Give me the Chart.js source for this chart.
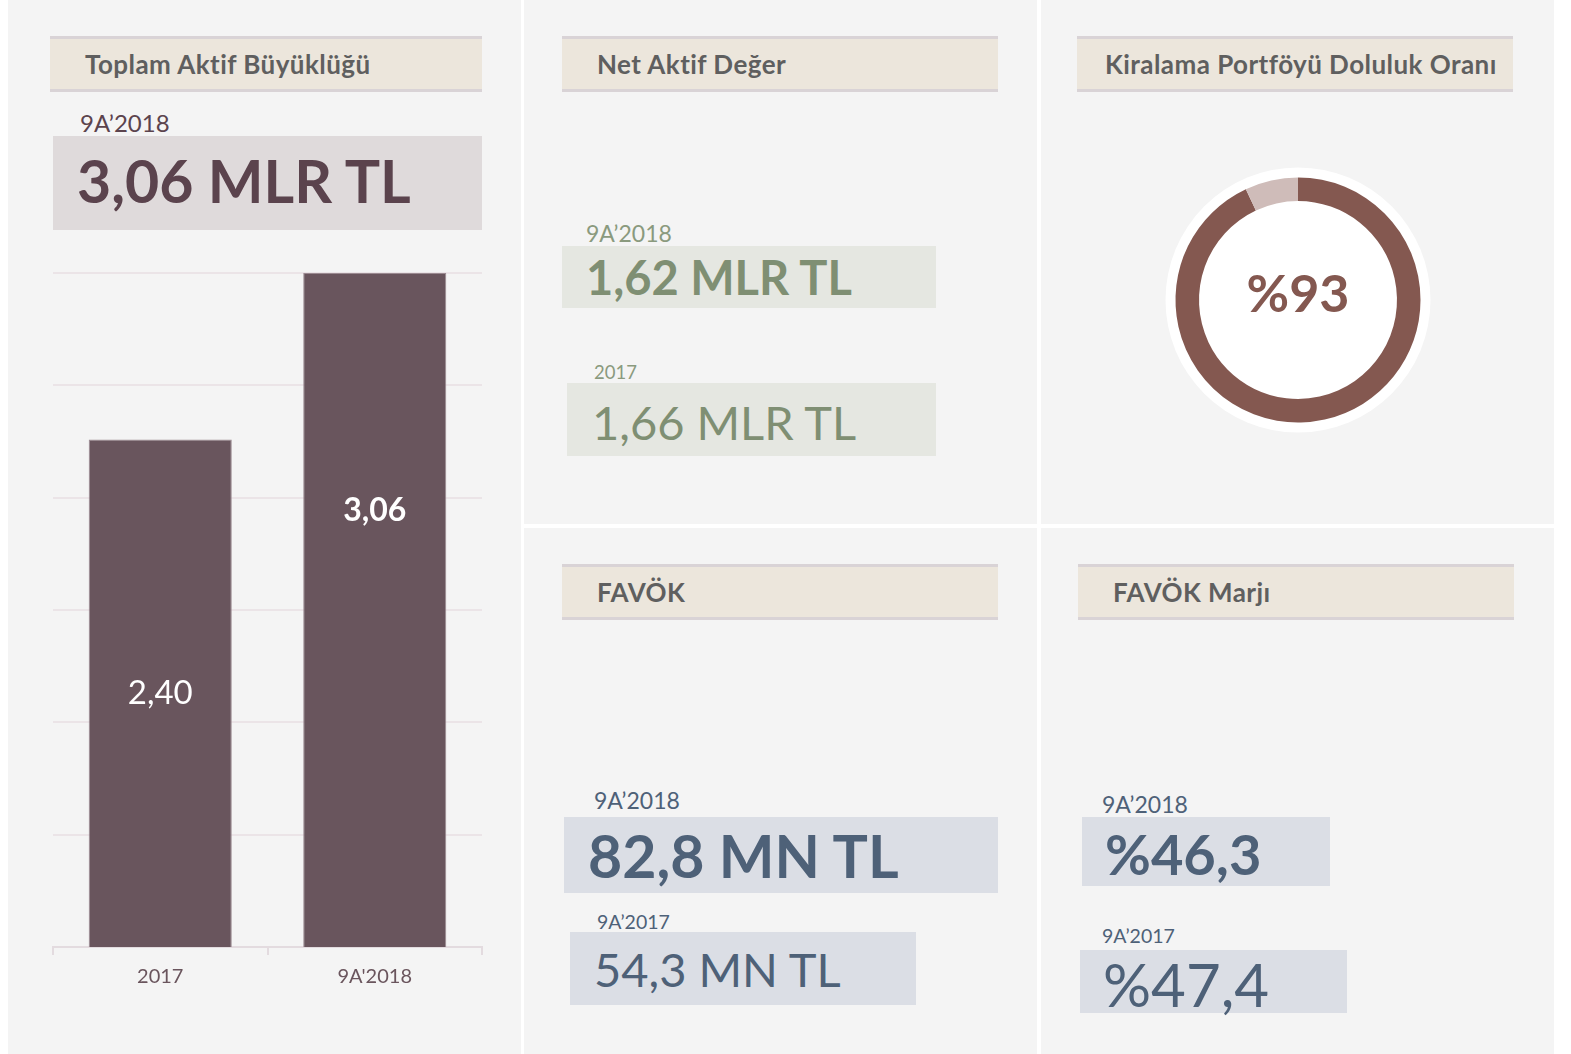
<!DOCTYPE html>
<html><head><meta charset="utf-8">
<script src="https://cdn.jsdelivr.net/npm/chart.js@4.4.1/dist/chart.umd.min.js"></script>
<style>
html,body{margin:0;padding:0;background:#fff;width:1571px;height:1054px;overflow:hidden;font-family:Lato,"Open Sans",sans-serif;}
.panel{position:absolute;background:#f4f4f4;}
.hdr{position:absolute;box-sizing:border-box;height:56px;background:#ece6dc;border-top:3px solid #d9d3d6;border-bottom:3px solid #d9d3d6;font-weight:700;font-size:26px;letter-spacing:0.45px;color:#5f5f5f;line-height:50px;white-space:nowrap;}
.box{position:absolute;}
.t{position:absolute;white-space:nowrap;line-height:1.2;}
canvas{position:absolute;}
</style></head>
<body>
<div class="panel" style="left:8px;top:0;width:513px;height:1054px"></div>
<div class="panel" style="left:524px;top:0;width:513px;height:524px"></div>
<div class="panel" style="left:1041px;top:0;width:513px;height:524px"></div>
<div class="panel" style="left:524px;top:528px;width:513px;height:526px"></div>
<div class="panel" style="left:1041px;top:528px;width:513px;height:526px"></div>

<div class="hdr" id="h0" style="left:50px;top:36px;width:432px;padding-left:35px"></div>
<div class="hdr" id="h1" style="left:562px;top:36px;width:436px;padding-left:35px"></div>
<div class="hdr" id="h2" style="left:1077px;top:36px;width:436px;padding-left:28px"></div>
<div class="hdr" id="h3" style="left:562px;top:564px;width:436px;padding-left:35px"></div>
<div class="hdr" id="h4" style="left:1078px;top:564px;width:436px;padding-left:35px"></div>

<!-- panel 1 -->
<div class="t" id="p0" style="left:80px;top:109px;font-size:24px;color:#5b434d"></div>
<div class="box" style="left:53px;top:136px;width:429px;height:94px;background:#dfdadb"></div>
<div class="t" id="v0" style="left:77px;top:146px;font-size:59px;font-weight:700;color:#5b434d"></div>
<canvas id="bar" width="445" height="752" style="left:45px;top:263px"></canvas>

<!-- panel 2 -->
<div class="t" id="p1a" style="left:586px;top:220px;font-size:23px;color:#8a9a7e"></div>
<div class="box" style="left:562px;top:246px;width:374px;height:62px;background:#e5e7e1"></div>
<div class="t" id="v1a" style="left:586px;top:249px;font-size:47px;font-weight:700;color:#7f8f73"></div>
<div class="t" id="p1b" style="left:594px;top:361px;font-size:18.5px;color:#8a9a7e"></div>
<div class="box" style="left:567px;top:383px;width:369px;height:73px;background:#e5e7e1"></div>
<div class="t" id="v1b" style="left:592px;top:394px;font-size:47px;color:#7f8f73"></div>

<!-- panel 3 -->
<canvas id="donut" width="300" height="300" style="left:1148px;top:150px"></canvas>

<!-- panel 4 -->
<div class="t" id="p3a" style="left:594px;top:787px;font-size:23px;color:#4e6178"></div>
<div class="box" style="left:564px;top:817px;width:434px;height:76px;background:#dbdee5"></div>
<div class="t" id="v3a" style="left:588px;top:821px;font-size:59px;font-weight:700;color:#4e6178"></div>
<div class="t" id="p3b" style="left:597px;top:910px;font-size:19.5px;color:#4e6178"></div>
<div class="box" style="left:570px;top:932px;width:346px;height:73px;background:#dbdee5"></div>
<div class="t" id="v3b" style="left:594px;top:941px;font-size:47px;color:#4e6178"></div>

<!-- panel 5 -->
<div class="t" id="p4a" style="left:1102px;top:791px;font-size:23px;color:#4e6178"></div>
<div class="box" style="left:1082px;top:817px;width:248px;height:69px;background:#dbdee5"></div>
<div class="t" id="v4a" style="left:1105px;top:820px;font-size:56px;font-weight:700;color:#4e6178"></div>
<div class="t" id="p4b" style="left:1102px;top:924px;font-size:19.5px;color:#4e6178"></div>
<div class="box" style="left:1080px;top:950px;width:267px;height:63px;background:#dbdee5"></div>
<div class="t" id="v4b" style="left:1103px;top:948px;font-size:60px;color:#4e6178"></div>

<script>
// ---- data ----
const panelTitles = ['Toplam Aktif Büyüklüğü', 'Net Aktif Değer', 'Kiralama Portföyü Doluluk Oranı', 'FAVÖK', 'FAVÖK Marjı'];
const totalAssetPeriod = '9A’2018';
const totalAssetValue = '3,06 MLR TL';
const barCategories = ['2017', "9A'2018"];
const barValues = [2.40, 3.06];
const barValueLabels = ['2,40', '3,06'];
const navPeriods = ['9A’2018', '2017'];
const navValues = ['1,62 MLR TL', '1,66 MLR TL'];
const occupancyLabels = ['Dolu', 'Boş'];
const occupancyValues = [93, 7];
const ebitdaPeriods = ['9A’2018', '9A’2017'];
const ebitdaValues = ['82,8 MN TL', '54,3 MN TL'];
const marginPeriods = ['9A’2018', '9A’2017'];
const marginValues = ['%46,3', '%47,4'];

const set = (id, txt) => { document.getElementById(id).textContent = txt; };
panelTitles.forEach((t, i) => set('h' + i, t));
set('p0', totalAssetPeriod); set('v0', totalAssetValue);
set('p1a', navPeriods[0]); set('v1a', navValues[0]);
set('p1b', navPeriods[1]); set('v1b', navValues[1]);
set('p3a', ebitdaPeriods[0]); set('v3a', ebitdaValues[0]);
set('p3b', ebitdaPeriods[1]); set('v3b', ebitdaValues[1]);
set('p4a', marginPeriods[0]); set('v4a', marginValues[0]);
set('p4b', marginPeriods[1]); set('v4b', marginValues[1]);

const FONT = 'Lato, "Open Sans", sans-serif';

// ---- bar chart ----
const labelStyle = [{weight: '400', size: 33, frac: 0.5}, {weight: '700', size: 32, frac: 0.647}];
const barLabelPlugin = {
  id: 'barLabels',
  afterDatasetsDraw(chart) {
    const ctx = chart.ctx;
    const meta = chart.getDatasetMeta(0);
    const base = chart.chartArea.bottom;
    meta.data.forEach((bar, i) => {
      const st = labelStyle[i];
      const y = base - (base - bar.y) * st.frac;
      ctx.save();
      ctx.fillStyle = '#ffffff';
      ctx.font = st.weight + ' ' + st.size + 'px ' + FONT;
      ctx.textAlign = 'center';
      ctx.textBaseline = 'middle';
      ctx.fillText(barValueLabels[i], bar.x, y);
      ctx.restore();
    });
  }
};
new Chart(document.getElementById('bar'), {
  type: 'bar',
  data: {
    labels: barCategories,
    datasets: [{
      data: barValues,
      backgroundColor: '#69555d',
      borderColor: '#9b8a91',
      borderWidth: 1,
      borderSkipped: 'bottom',
      categoryPercentage: 1.0,
      barPercentage: 0.667
    }]
  },
  options: {
    responsive: false,
    animation: false,
    layout: {padding: {left: 8, right: 8, top: 10, bottom: 16}},
    plugins: {legend: {display: false}, tooltip: {enabled: false}},
    scales: {
      x: {
        grid: {display: true, drawOnChartArea: false, drawTicks: true, tickLength: 8, color: '#e3dbdf', lineWidth: 2},
        border: {display: true, color: '#e3dbdf', width: 2},
        ticks: {color: '#6a555d', font: {family: FONT, size: 20}, padding: 10}
      },
      y: {
        min: 0.39, max: 3.06,
        ticks: {display: false, count: 7},
        grid: {color: '#ebe4e7', lineWidth: 2, drawTicks: false},
        border: {display: false}
      }
    }
  },
  plugins: [barLabelPlugin]
});

// ---- doughnut ----
const donutPlugin = {
  id: 'donutDecor',
  beforeDatasetsDraw(chart) {
    const arc = chart.getDatasetMeta(0).data[0];
    const ctx = chart.ctx;
    ctx.save();
    ctx.fillStyle = '#ffffff';
    ctx.beginPath();
    ctx.arc(arc.x, arc.y, arc.outerRadius + 10, 0, Math.PI * 2);
    ctx.fill();
    ctx.restore();
  },
  afterDatasetsDraw(chart) {
    const arc = chart.getDatasetMeta(0).data[0];
    const ctx = chart.ctx;
    ctx.save();
    ctx.fillStyle = '#845850';
    ctx.font = '700 52px ' + FONT;
    ctx.textAlign = 'center';
    ctx.textBaseline = 'middle';
    ctx.fillText('%' + occupancyValues[0], arc.x, arc.y - 5);
    ctx.restore();
  }
};
new Chart(document.getElementById('donut'), {
  type: 'doughnut',
  data: {
    labels: occupancyLabels,
    datasets: [{data: occupancyValues, backgroundColor: ['#845850', '#cfbcb9'], borderWidth: 0, hoverOffset: 0}]
  },
  options: {
    responsive: false,
    animation: false,
    cutout: '80.8%',
    layout: {padding: 27.5},
    plugins: {legend: {display: false}, tooltip: {enabled: false}}
  },
  plugins: [donutPlugin]
});
</script>
</body></html>
